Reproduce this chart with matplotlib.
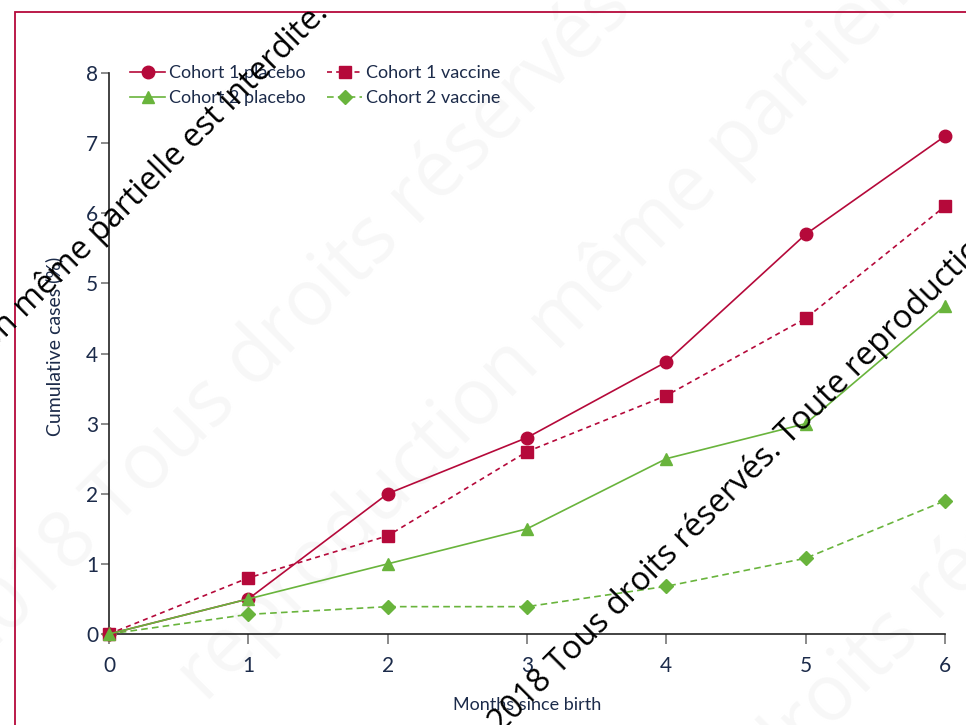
import matplotlib
matplotlib.use("Agg")
import matplotlib.pyplot as plt
from matplotlib.patches import Rectangle

# Données
months = [0, 1, 2, 3, 4, 5, 6]
cohort1_placebo = [0, 0.5, 2.0, 2.8, 3.88, 5.7, 7.1]
cohort1_vaccine = [0, 0.8, 1.4, 2.6, 3.4, 4.5, 6.1]
cohort2_placebo = [0, 0.5, 1.0, 1.5, 2.5, 3.0, 4.68]
cohort2_vaccine = [0, 0.28, 0.39, 0.39, 0.68, 1.08, 1.9]

labels = ["Cohort 1 placebo", "Cohort 1 vaccine", "Cohort 2 placebo", "Cohort 2 vaccine"]
x_ticks = [0, 1, 2, 3, 4, 5, 6]
y_ticks = [0, 1, 2, 3, 4, 5, 6, 7, 8]

RED = "#b5093a"
GREEN = "#69b43c"
TXT = "#1c2b4a"
W, H = 966, 725

plt.rcParams['font.family'] = ['Lato', 'DejaVu Sans']

fig = plt.figure(figsize=(9.66, 7.25), dpi=100)
ax = fig.add_axes([109 / W, 1 - 634 / H, (945 - 109) / W, (634 - 73) / H])

# cadre rouge
fig.patches.append(Rectangle((15 / W, -0.5), 2, 0.5 + 1 - 12 / H, transform=fig.transFigure,
                             fill=False, edgecolor=RED, linewidth=1.3, zorder=0))

# filigrane pâle (derrière le graphique)
faint = dict(rotation=45, rotation_mode='anchor', ha='center', va='center',
             fontsize=56, family='Open Sans', color='#f7f7f7', zorder=-1)
fig.text(290 / W, 1 - 325 / H, "2018 Tous droits réservés", **faint)
fig.text(560 / W, 1 - 320 / H, "reproduction même partielle", **faint)
fig.text(880 / W, 1 - 650 / H, "Tous droits réservés", **faint)

c1p, = ax.plot(months, cohort1_placebo, '-', color=RED, lw=1.2, marker='o', ms=9, clip_on=False, zorder=4)
c1v, = ax.plot(months, cohort1_vaccine, '--', color=RED, lw=1.2, marker='s', ms=9, clip_on=False,
               dashes=(3, 2.5), zorder=3)
c2p, = ax.plot(months, cohort2_placebo, '-', color=GREEN, lw=1.2, marker='^', ms=8.5, clip_on=False, zorder=5)
c2v, = ax.plot(months, cohort2_vaccine, '--', color=GREEN, lw=1.2, marker='D', ms=7.5, clip_on=False,
               dashes=(4, 2.5), zorder=3)

ax.set_xlim(0, 6)
ax.set_ylim(0, 8)
ax.set_xticks(x_ticks)
ax.set_yticks(y_ticks)
ax.patch.set_alpha(0)
ax.spines['top'].set_visible(False)
ax.spines['right'].set_visible(False)
for s in ['left', 'bottom']:
    ax.spines[s].set_color('#222222')
    ax.spines[s].set_linewidth(1.2)
ax.tick_params(axis='both', direction='out', width=1.2, color='#777777',
               labelcolor=TXT, labelsize=15)
ax.tick_params(axis='x', length=7.2, pad=9)
ax.tick_params(axis='y', length=5.8, pad=2)

ax.set_xlabel("Months since birth", fontsize=13, color=TXT)
ax.set_ylabel("Cumulative cases (%)", fontsize=14, color=TXT)
ax.xaxis.set_label_coords(0.5, (634 - 697) / 561)
ax.yaxis.set_label_coords((63 - 109) / 836, (634 - 346) / 561)

leg = ax.legend([c1p, c2p, c1v, c2v],
                [labels[0], labels[2], labels[1], labels[3]],
                ncol=2, frameon=False, loc='upper left',
                bbox_to_anchor=((130 - 109) / 836, (634 - 65) / 561),
                borderaxespad=0, borderpad=0,
                fontsize=13, handlelength=1.95, columnspacing=1.2, labelspacing=0.5,
                handletextpad=0.2, labelcolor=TXT)

# filigrane noir
mark = dict(rotation=45, rotation_mode='anchor', va='baseline',
            fontsize=23.5, family='Open Sans', color='black', zorder=10)
fig.text(330 / W, 1 - 14 / H, "Toute reproduction même partielle est interdite.", ha='right', **mark)
fig.text(475 / W, 1 - 759 / H, "© 2018 Tous droits réservés. Toute reproduction même partielle est interdite.",
         ha='left', **mark)

fig.savefig("out.png", dpi=100)
